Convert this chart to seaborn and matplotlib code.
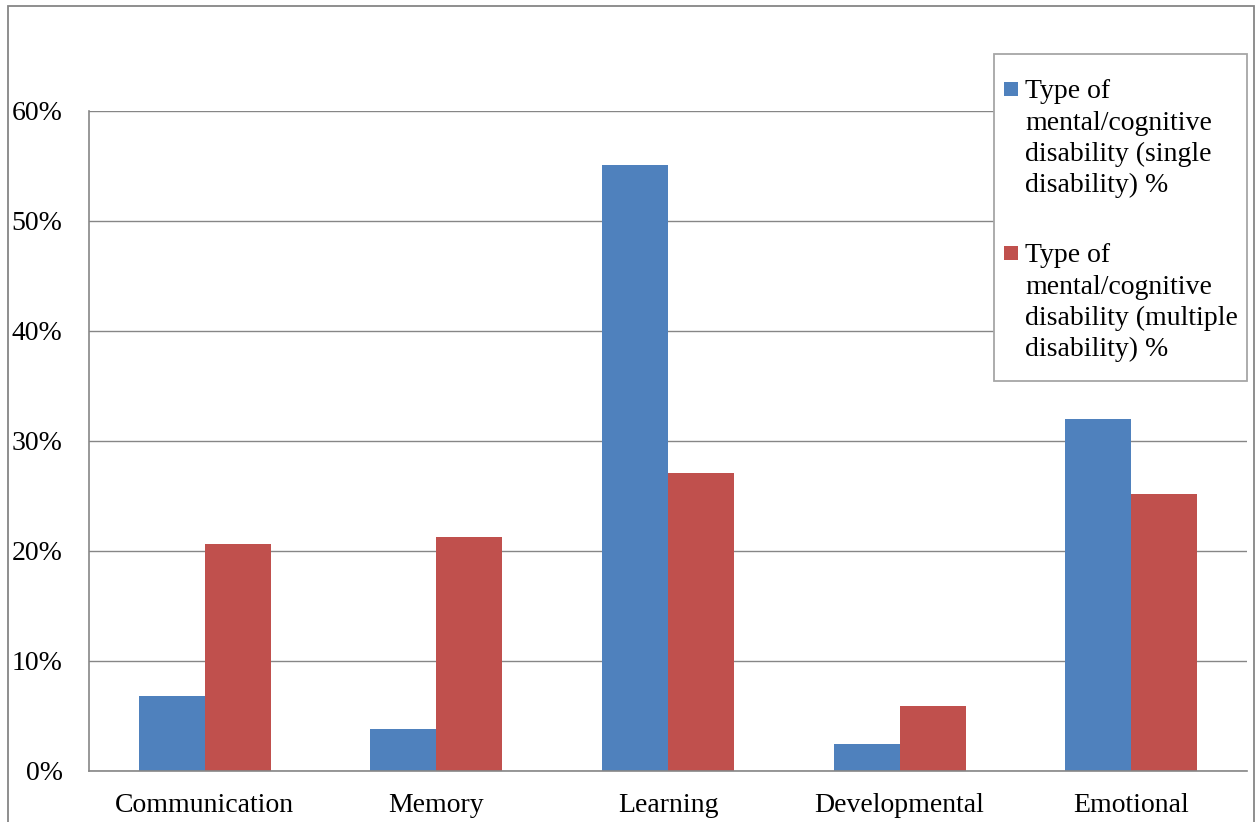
import matplotlib
matplotlib.use("Agg")
import matplotlib.pyplot as plt
from matplotlib.patches import Rectangle
from matplotlib.ticker import FuncFormatter
import pandas as pd
import seaborn as sns

# Share of each type of mental/cognitive disability (%)
categories = ["Communication", "Memory", "Learning", "Developmental", "Emotional"]
single_pct = [6.8, 3.8, 55.1, 2.4, 32.0]
multiple_pct = [20.6, 21.3, 27.1, 5.9, 25.2]
series_labels = [
    "Type of\nmental/cognitive\ndisability (single\ndisability) %",
    "Type of\nmental/cognitive\ndisability (multiple\ndisability) %",
]
y_ticks = [0, 10, 20, 30, 40, 50, 60]

colors = ["#4F81BD", "#C0504D"]
grid_gray = "#868686"
FONT = "Liberation Serif"
FS = 20

df = pd.DataFrame({
    "category": categories * 2,
    "value": single_pct + multiple_pct,
    "series": [series_labels[0]] * len(categories) + [series_labels[1]] * len(categories),
})

sns.set_theme(style="white")
plt.rcParams["font.family"] = [FONT, "DejaVu Serif"]

W, H = 1255, 822
fig = plt.figure(figsize=(W / 100, H / 100), dpi=100)
fig.patch.set_facecolor("white")


def fx(px):
    return px / W


def fy(py):
    return 1 - py / H


ax = fig.add_axes([fx(89), fy(770.7), fx(1247) - fx(89), fy(111) - fy(770.7)])

sns.barplot(data=df, x="category", y="value", hue="series", order=categories,
            hue_order=series_labels, palette=colors, width=0.57, saturation=1,
            linewidth=0, ax=ax, legend=False)

ax.set_ylim(0, 60)
ax.set_xlim(-0.5, len(categories) - 0.5)
ax.set_yticks(y_ticks)
ax.yaxis.set_major_formatter(FuncFormatter(lambda v, _: f"{v:.0f}%"))
ax.set_xlabel("")
ax.set_ylabel("")
ax.yaxis.grid(True, color=grid_gray, linewidth=1.0)
ax.set_axisbelow(True)
for side in ("top", "right"):
    ax.spines[side].set_visible(False)
for side in ("left", "bottom"):
    ax.spines[side].set_color(grid_gray)
    ax.spines[side].set_linewidth(1.2)
ax.tick_params(axis="y", length=0, pad=19, labelsize=FS, labelcolor="black")
ax.tick_params(axis="x", length=0, pad=16, labelsize=FS, labelcolor="black")
for lbl in ax.get_xticklabels() + ax.get_yticklabels():
    lbl.set_fontfamily(FONT)

# Outer chart frame
fig.add_artist(Rectangle((fx(8), fy(900)), fx(1254) - fx(8), fy(6) - fy(900),
                         transform=fig.transFigure, fill=False,
                         edgecolor=grid_gray, linewidth=1.3, clip_on=False))

# Legend box with wrapped entries
fig.add_artist(Rectangle((fx(994), fy(381)), fx(1247) - fx(994), fy(54) - fy(381),
                         transform=fig.transFigure, facecolor="white",
                         edgecolor="#A6A6A6", linewidth=1.3, zorder=5))
entry_baselines = [98, 262]
line_step = 31.5
for label, color, base in zip(series_labels, colors, entry_baselines):
    fig.add_artist(Rectangle((fx(1004), fy(base - 2)), fx(14), 14 / H,
                             transform=fig.transFigure, facecolor=color,
                             edgecolor="none", zorder=6))
    for j, line in enumerate(label.split("\n")):
        fig.text(fx(1025), fy(base + j * line_step), line, fontsize=FS,
                 fontfamily=FONT, va="baseline", ha="left", color="black",
                 zorder=7)

fig.savefig("out.png", dpi=100)
